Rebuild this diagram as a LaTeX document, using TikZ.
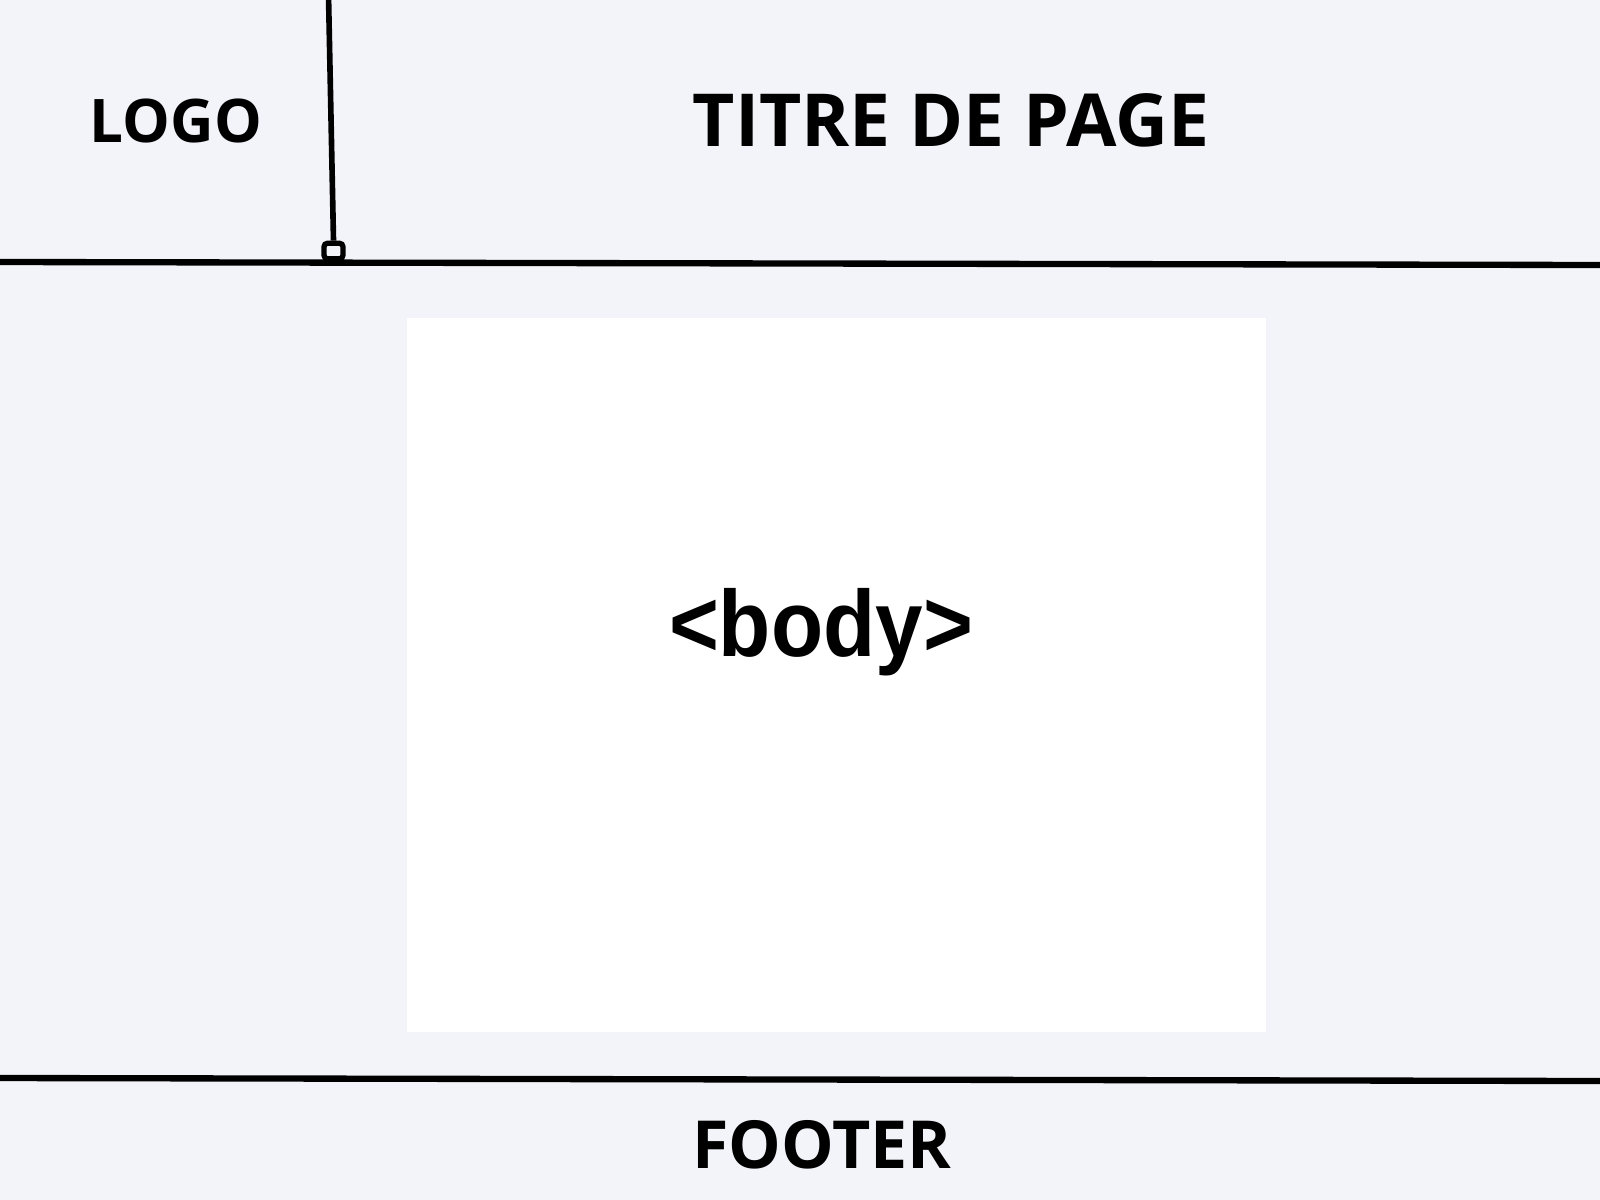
\documentclass[tikz,border=0pt]{standalone}
\usepackage{fontspec}
\setmainfont{Open Sans}
\newfontfamily\bodyfont{Liberation Sans}
\usepackage{xcolor}
\definecolor{pagebg}{HTML}{F3F4F9}

\tikzset{
  title/.style={font=\bfseries, inner sep=0pt, anchor=base},
  rule/.style={line width=1.8pt, black},
  handle/.style={draw, line width=1.5pt, rounded corners=1pt, minimum width=0.19cm, minimum height=0.155cm, inner sep=0pt}
}

\begin{document}
\begin{tikzpicture}[x=0.01cm, y=-0.01cm]

  % page background and bounding box
  \fill[pagebg] (0,0) rectangle (1600,1200);
  \useasboundingbox (0,0) rectangle (1600,1200);

  % body area
  \fill[white] (407,318) rectangle (1266,1032);

  % separators
  \coordinate (headL) at (0,262);
  \coordinate (headR) at (1600,265);
  \coordinate (footL) at (0,1078);
  \coordinate (footR) at (1600,1081);
  \draw[rule] (headL) -- (headR);
  \draw[rule] (footL) -- (footR);

  % pin and handle
  \node[handle] (knob) at (333.5,251) {};
  \coordinate (pintop) at (328.6,0);
  \draw[line width=1.6pt] (pintop) -- (knob.north);

  % Labels
  \node[title, font=\fontsize{17.1}{20}\selectfont\bfseries] (logo) at (176,142) {LOGO};
  \node[title, font=\fontsize{20.8}{24}\selectfont\bfseries] (titre) at (951,146) {TITRE DE PAGE};
  \node[inner sep=0pt, anchor=base] (body) at (821,656)
    {\scalebox{1}[1.1]{\bodyfont\fontsize{24.3}{28}\selectfont\bfseries <body>}};
  \node[title, font=\fontsize{18.85}{22}\selectfont\bfseries] (footer) at (822,1168) {FOOTER};

\end{tikzpicture}
\end{document}
